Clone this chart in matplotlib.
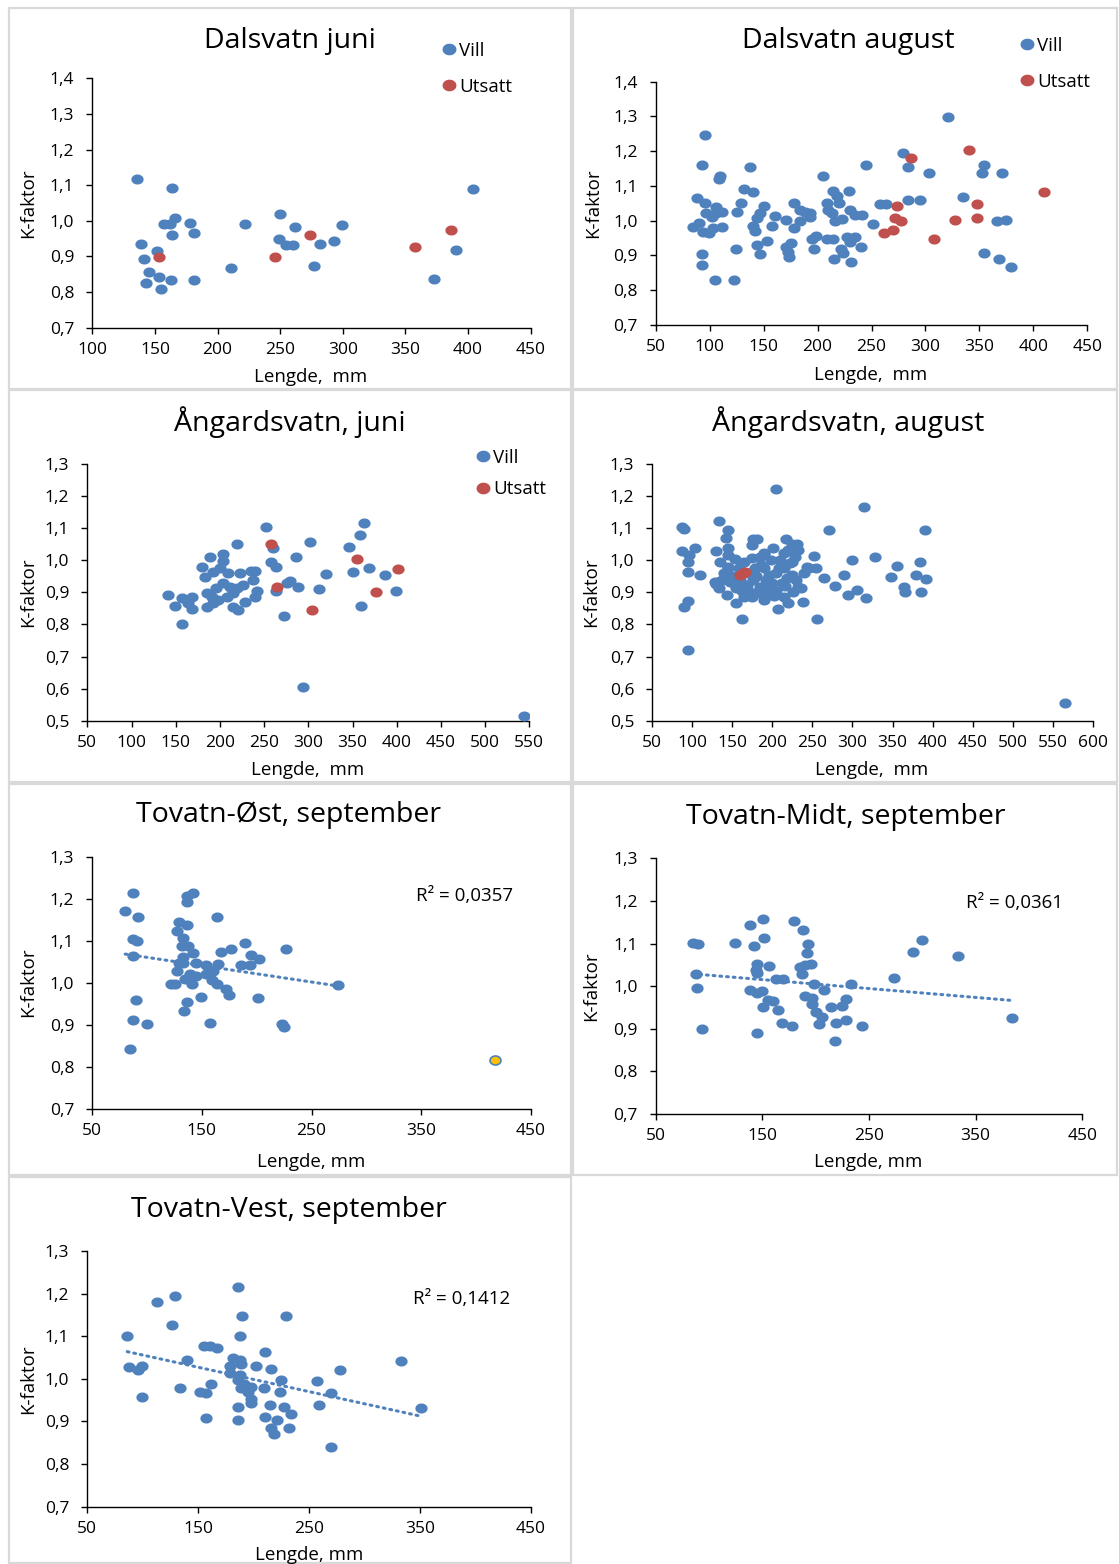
import numpy as np
import matplotlib
matplotlib.use("Agg")
import matplotlib.pyplot as plt
from matplotlib.path import Path
from matplotlib.patches import Rectangle
from matplotlib.lines import Line2D

plt.rcParams['font.family'] = ['Open Sans', 'DejaVu Sans']

W, H = 1119, 1564
BLUE = "#4F81BD"
RED = "#C0504D"
YELLOW = "#FFC000"

# --- Dalsvatn juni ---
dal_jun_vill_x = [136, 164, 250, 404, 166, 157, 162, 178, 164, 181, 222, 262, 299, 249, 255, 260,
                  282, 293, 139, 152, 141, 145, 153, 143, 163, 155, 181, 211, 277, 390, 373]
dal_jun_vill_y = [1.118, 1.093, 1.020, 1.088, 1.008, 0.991, 0.991, 0.995, 0.961, 0.966, 0.991, 0.983,
                  0.987, 0.949, 0.932, 0.932, 0.936, 0.944, 0.936, 0.915, 0.893, 0.855, 0.842, 0.826,
                  0.834, 0.809, 0.834, 0.868, 0.872, 0.919, 0.838]
dal_jun_uts_x = [153, 246, 274, 358, 386]
dal_jun_uts_y = [0.898, 0.898, 0.961, 0.927, 0.974]

# --- Dalsvatn august ---
dal_aug_vill_x = [96, 93, 137, 110, 109, 205, 132, 140, 88, 96, 106, 111, 97, 102, 106, 129, 125,
                  85, 90, 94, 99, 111, 103, 150, 147, 144, 140, 142, 161, 158, 171, 178, 178, 184,
                  188, 193, 193, 184, 124, 93, 93, 105, 123, 153, 144, 147, 171, 174, 173, 175,
                  195, 199, 197, 209, 214, 214, 218, 220, 209, 210, 213, 216, 223, 229, 230, 235,
                  241, 227, 235, 230, 222, 224, 215, 240, 231, 245, 251, 258, 263, 279, 284, 284,
                  295, 303, 321, 335, 354, 352, 371, 366, 375, 354, 368, 379]
dal_aug_vill_y = [1.247, 1.160, 1.156, 1.130, 1.119, 1.130, 1.090, 1.082, 1.065, 1.052, 1.040, 1.026,
                  1.021, 1.012, 1.021, 1.052, 1.026, 0.983, 0.994, 0.969, 0.964, 0.983, 0.978,
                  1.042, 1.021, 1.007, 0.986, 0.970, 1.014, 0.986, 1.003, 1.052, 0.978, 1.031,
                  1.026, 1.021, 1.010, 0.998, 0.918, 0.903, 0.874, 0.829, 0.829, 0.943, 0.930,
                  0.904, 0.925, 0.897, 0.911, 0.935, 0.946, 0.957, 0.920, 0.947, 0.947, 1.086,
                  1.071, 1.052, 1.052, 1.031, 1.021, 0.999, 1.005, 1.086, 1.031, 1.016, 1.016,
                  0.954, 0.954, 0.940, 0.920, 0.908, 0.890, 0.925, 0.882, 1.159, 0.990, 1.047,
                  1.047, 1.195, 1.156, 1.060, 1.060, 1.138, 1.299, 1.068, 1.159, 1.138, 1.138,
                  0.998, 1.003, 0.907, 0.890, 0.868]
dal_aug_uts_x = [287, 340, 274, 272, 277, 262, 270, 308, 327, 348, 348, 410]
dal_aug_uts_y = [1.181, 1.203, 1.042, 1.008, 0.998, 0.964, 0.973, 0.946, 1.003, 1.047, 1.008, 1.082]

# --- Ångardsvatn juni ---
ang_jun_vill_x = [141, 149, 157, 169, 164, 169, 157, 180, 189, 203, 204, 183, 192, 200, 209, 185,
                  191, 196, 204, 211, 185, 192, 198, 208, 215, 219, 226, 215, 221, 228, 223, 235,
                  240, 237, 242, 240, 219, 252, 260, 258, 264, 264, 272, 279, 288, 276, 286, 302,
                  312, 320, 294, 346, 358, 363, 351, 369, 360, 387, 399, 544]
ang_jun_vill_y = [0.892, 0.858, 0.881, 0.887, 0.866, 0.848, 0.802, 0.980, 1.009, 1.018, 0.999, 0.949,
                  0.964, 0.975, 0.959, 0.897, 0.887, 0.912, 0.928, 0.918, 0.855, 0.866, 0.876,
                  0.887, 0.897, 0.912, 0.923, 0.855, 0.845, 0.869, 0.959, 0.967, 0.968, 0.938,
                  0.905, 0.884, 1.051, 1.103, 1.037, 0.994, 0.980, 0.905, 0.826, 0.936, 0.916,
                  0.928, 1.009, 1.056, 0.910, 0.957, 0.604, 1.042, 1.080, 1.117, 0.962, 0.976,
                  0.858, 0.953, 0.905, 0.516]
ang_jun_uts_x = [258, 265, 304, 355, 377, 401]
ang_jun_uts_y = [1.051, 0.918, 0.844, 1.004, 0.900, 0.972]

# --- Ångardsvatn august ---
ang_aug_vill_x = [205, 315, 133, 87, 90, 144, 142, 271, 390, 176, 181, 175, 217, 224, 231, 232, 220,
                  87, 103, 96, 129, 144, 144, 94, 94, 110, 135, 153, 144, 128, 133, 140, 174, 189,
                  201, 214, 224, 252, 243, 254, 265, 289, 300, 328, 278, 295, 306, 317, 355, 348,
                  384, 379, 392, 364, 366, 386, 94, 90, 162, 256, 94, 565,
                  147, 155, 143, 155, 164, 160, 168, 176, 184, 180, 174, 190, 196, 190, 205, 207,
                  214, 220, 225, 232, 236, 238, 212, 200, 195, 205, 215, 222, 230, 186, 178, 170,
                  150, 145, 140, 210, 198, 185, 165, 158, 226, 218, 202, 192, 180, 172, 162, 152,
                  135, 130, 190, 228, 240, 246, 208, 188, 216]
ang_aug_vill_y = [1.221, 1.165, 1.122, 1.103, 1.097, 1.094, 1.070, 1.094, 1.094, 1.066, 1.066, 1.048,
                  1.066, 1.051, 1.051, 1.032, 1.032, 1.029, 1.037, 1.016, 1.029, 1.037, 1.016,
                  0.996, 0.962, 0.953, 0.996, 1.004, 0.980, 0.933, 0.915, 0.959, 1.006, 1.022,
                  1.037, 1.022, 0.996, 1.013, 0.980, 0.976, 0.944, 0.953, 1.000, 1.009, 0.920,
                  0.892, 0.908, 0.882, 0.981, 0.948, 0.995, 0.953, 0.943, 0.916, 0.900, 0.901,
                  0.873, 0.854, 0.816, 0.816, 0.721, 0.556,
                  0.933, 0.912, 0.892, 0.868, 0.885, 0.938, 0.922, 0.938, 0.917, 0.897, 0.887,
                  0.876, 0.955, 0.975, 0.903, 0.848, 0.887, 0.866, 0.954, 0.918, 0.913, 0.870,
                  0.930, 0.930, 0.910, 0.960, 0.975, 0.990, 0.940, 0.985, 0.975, 0.960, 0.950,
                  0.975, 0.945, 1.000, 1.000, 1.010, 0.995, 0.975, 0.900, 0.945, 0.890, 0.940,
                  0.950, 0.900, 0.905, 0.930, 0.935, 0.925, 1.020, 1.010, 0.960, 0.977, 0.975,
                  0.895, 0.920]
ang_aug_uts_x = [160, 163, 166]
ang_aug_uts_y = [0.954, 0.960, 0.963]

# --- Tovatn-Øst, september ---
ost_x = [87, 80, 92, 136, 142, 136, 164, 129, 136, 127, 87, 91, 87, 133, 132, 137, 142, 133, 129,
         133, 127, 145, 167, 177, 189, 195, 202, 186, 194, 227, 154, 165, 160, 154, 139, 145, 135,
         141, 125, 122, 159, 164, 172, 175, 274, 90, 149, 201, 136, 134, 87, 100, 157, 223, 225, 84]
ost_y = [1.214, 1.171, 1.156, 1.206, 1.214, 1.192, 1.156, 1.145, 1.138, 1.124, 1.103, 1.099, 1.063,
         1.107, 1.087, 1.087, 1.070, 1.062, 1.048, 1.046, 1.027, 1.048, 1.073, 1.081, 1.095, 1.067,
         1.056, 1.041, 1.041, 1.081, 1.041, 1.044, 1.029, 1.020, 1.020, 1.016, 1.010, 0.998, 0.998,
         0.998, 1.006, 0.998, 0.984, 0.970, 0.994, 0.959, 0.966, 0.963, 0.955, 0.933, 0.911, 0.902,
         0.905, 0.901, 0.894, 0.843]
ost_extra_x = [417]
ost_extra_y = [0.815]
ost_r2 = "0,0357"

# --- Tovatn-Midt, september ---
midt_x = [85, 90, 88, 89, 93, 124, 138, 151, 152, 142, 145, 156, 144, 145, 163, 169, 138, 145, 150,
          155, 160, 151, 165, 168, 178, 145, 180, 188, 193, 192, 185, 190, 196, 187, 198, 208, 233,
          190, 197, 197, 200, 206, 203, 214, 225, 228, 219, 228, 243, 218, 273, 291, 300, 333, 384]
midt_y = [1.102, 1.098, 1.028, 0.996, 0.899, 1.102, 1.144, 1.158, 1.112, 1.095, 1.052, 1.048,
          1.038, 1.031, 1.017, 1.017, 0.992, 0.985, 0.989, 0.968, 0.964, 0.950, 0.943, 0.914,
          0.907, 0.889, 1.152, 1.131, 1.098, 1.077, 1.046, 1.049, 1.052, 1.028, 1.006, 0.992,
          1.006, 0.978, 0.972, 0.957, 0.939, 0.928, 0.911, 0.950, 0.953, 0.971, 0.914, 0.921,
          0.907, 0.871, 1.018, 1.080, 1.109, 1.070, 0.925]
midt_r2 = "0,0361"

# --- Tovatn-Vest, september ---
vest_x = [86, 88, 96, 99, 99, 113, 129, 126, 140, 134, 155, 161, 167, 152, 157, 162, 157, 186, 190,
          188, 181, 188, 189, 179, 179, 188, 186, 191, 189, 198, 195, 198, 198, 186, 186, 210, 202,
          216, 225, 209, 224, 215, 227, 234, 210, 221, 216, 218, 232, 229, 257, 259, 270, 270, 278,
          333, 351]
vest_y = [1.101, 1.027, 1.021, 1.031, 0.957, 1.180, 1.194, 1.126, 1.045, 0.978, 1.077, 1.077, 1.073,
          0.970, 0.967, 0.988, 0.907, 1.215, 1.147, 1.101, 1.048, 1.044, 1.036, 1.030, 1.013, 1.009,
          0.997, 0.989, 0.978, 0.982, 0.970, 0.953, 0.943, 0.935, 0.903, 1.062, 1.030, 1.023, 0.998,
          0.978, 0.970, 0.939, 0.935, 0.917, 0.910, 0.903, 0.885, 0.871, 0.885, 1.147, 0.995,
          0.939, 0.966, 0.839, 1.021, 1.042, 0.931]
vest_r2 = "0,1412"

# slightly wide oval marker, like the spreadsheet dots
t = np.linspace(0, 2 * np.pi, 48)
OVAL = Path(np.c_[np.cos(t), 0.82 * np.sin(t)], closed=True)
MS = 78

TICK_FS = 12.5
LAB_FS = 13.5
TITLE_FS = 20.5

fig = plt.figure(figsize=(W / 100, H / 100), dpi=100)


def px_box(l, t_, r, b):
    return [l / W, 1 - b / H, (r - l) / W, (b - t_) / H]


def fx(x):
    return x / W


def fy(y):
    return 1 - y / H


def frame(l, t_, r, b):
    fig.add_artist(Rectangle((fx(l), fy(b)), (r - l) / W, (b - t_) / H,
                             transform=fig.transFigure, fill=False,
                             edgecolor="#d9d9d9", lw=1.6))


def make_axes(box, xlim, xticks, ylim, yticks):
    ax = fig.add_axes(px_box(*box))
    ax.set_xlim(*xlim)
    ax.set_ylim(*ylim)
    ax.set_xticks(xticks)
    ax.set_yticks(yticks)
    ax.set_xticklabels([str(v) for v in xticks])
    ax.set_yticklabels([f"{v:.1f}".replace(".", ",") for v in yticks])
    for s in ("top", "right"):
        ax.spines[s].set_visible(False)
    for s in ("left", "bottom"):
        ax.spines[s].set_linewidth(1.0)
        ax.spines[s].set_color("black")
    ax.tick_params(direction="out", length=4, width=1.0, labelsize=TICK_FS)
    ax.tick_params(axis="y", pad=9)
    ax.tick_params(axis="x", pad=6)
    ax.patch.set_alpha(0)
    return ax


def labels(ax, title, title_xy, ylab_xy, xlab_xy, xlab="Lengde,  mm"):
    fig.text(fx(title_xy[0]), fy(title_xy[1]), title, ha="center", va="center", fontsize=TITLE_FS)
    fig.text(fx(ylab_xy[0]), fy(ylab_xy[1]), "K-faktor", rotation=90, ha="center", va="center",
             fontsize=LAB_FS)
    fig.text(fx(xlab_xy[0]), fy(xlab_xy[1]), xlab, ha="center", va="center", fontsize=LAB_FS)


def legend(ax, x, y, spacing):
    handles = [Line2D([], [], ls="none", marker=OVAL, ms=9, color=BLUE),
               Line2D([], [], ls="none", marker=OVAL, ms=9, color=RED)]
    ax.legend(handles, ["Vill", "Utsatt"], loc="upper left", bbox_to_anchor=(fx(x), fy(y)),
              bbox_transform=fig.transFigure, frameon=False, fontsize=LAB_FS,
              handlelength=0.6, handletextpad=0.25, labelspacing=spacing, borderpad=0, borderaxespad=0)


def trend(ax, x, y, r2, xy):
    x = np.asarray(x, float)
    y = np.asarray(y, float)
    k, m = np.polyfit(x, y, 1)
    xs = np.array([x.min(), x.max()])
    ax.plot(xs, k * xs + m, color=BLUE, lw=2.2, ls=(0, (0.6, 1.6)), dash_capstyle="round", zorder=1)
    fig.text(fx(xy[0]), fy(xy[1]), f"R² = {r2}", ha="center", va="center", fontsize=LAB_FS)


# panel frames
frame(9, 8, 571, 389)
frame(573, 8, 1117, 389)
frame(9, 390, 571, 782)
frame(573, 390, 1117, 782)
frame(9, 784, 571, 1175)
frame(573, 784, 1117, 1175)
frame(9, 1177, 571, 1563)

y07_14 = [0.7, 0.8, 0.9, 1.0, 1.1, 1.2, 1.3, 1.4]
y05_13 = [0.5, 0.6, 0.7, 0.8, 0.9, 1.0, 1.1, 1.2, 1.3]
y07_13 = [0.7, 0.8, 0.9, 1.0, 1.1, 1.2, 1.3]

# Dalsvatn juni
ax = make_axes((92.3, 78.3, 530.7, 327.7), (100, 450), list(range(100, 451, 50)), (0.7, 1.4), y07_14)
ax.scatter(dal_jun_vill_x, dal_jun_vill_y, marker=OVAL, s=MS, color=BLUE, lw=0, zorder=3)
ax.scatter(dal_jun_uts_x, dal_jun_uts_y, marker=OVAL, s=MS, color=RED, lw=0, zorder=3)
labels(ax, "Dalsvatn juni", (290, 41), (28, 203), (311, 377))
legend(ax, 443.5, 42, 0.95)

# Dalsvatn august
ax = make_axes((655.7, 81.7, 1087.3, 325), (50, 450), list(range(50, 451, 50)), (0.7, 1.4), y07_14)
ax.scatter(dal_aug_vill_x, dal_aug_vill_y, marker=OVAL, s=MS, color=BLUE, lw=0, zorder=3)
ax.scatter(dal_aug_uts_x, dal_aug_uts_y, marker=OVAL, s=MS, color=RED, lw=0, zorder=3)
labels(ax, "Dalsvatn august", (848, 41), (593, 203), (871, 375))
legend(ax, 1021.5, 37, 0.95)

# Ångardsvatn juni
ax = make_axes((87.3, 464, 529.3, 720.7), (50, 550), list(range(50, 551, 50)), (0.5, 1.3), y05_13)
ax.scatter(ang_jun_vill_x, ang_jun_vill_y, marker=OVAL, s=MS, color=BLUE, lw=0, zorder=3)
ax.scatter(ang_jun_uts_x, ang_jun_uts_y, marker=OVAL, s=MS, color=RED, lw=0, zorder=3)
labels(ax, "Ångardsvatn, juni", (290, 422), (28, 592), (308, 770))
legend(ax, 477.5, 449, 0.72)

# Ångardsvatn august
ax = make_axes((652.3, 464, 1092.7, 720.7), (50, 600), list(range(50, 601, 50)), (0.5, 1.3), y05_13)
ax.scatter(ang_aug_vill_x, ang_aug_vill_y, marker=OVAL, s=MS, color=BLUE, lw=0, zorder=3)
ax.scatter(ang_aug_uts_x, ang_aug_uts_y, marker=OVAL, s=MS, color=RED, lw=0, zorder=3)
labels(ax, "Ångardsvatn, august", (848, 422), (591, 592), (872, 770))

# Tovatn-Øst
ax = make_axes((92.3, 856.7, 530.7, 1108.7), (50, 450), [50, 150, 250, 350, 450], (0.7, 1.3), y07_13)
ax.scatter(ost_x, ost_y, marker=OVAL, s=MS, color=BLUE, lw=0, zorder=3)
ax.scatter(ost_extra_x, ost_extra_y, marker=OVAL, s=MS * 0.8, color=YELLOW, edgecolor=BLUE, lw=1.2, zorder=3)
trend(ax, ost_x, ost_y, ost_r2, (465, 896))
labels(ax, "Tovatn-Øst, september", (289, 815), (28, 982), (311, 1162), "Lengde, mm")

# Tovatn-Midt
ax = make_axes((655.7, 858.3, 1082.3, 1114), (50, 450), [50, 150, 250, 350, 450], (0.7, 1.3), y07_13)
ax.scatter(midt_x, midt_y, marker=OVAL, s=MS, color=BLUE, lw=0, zorder=3)
trend(ax, midt_x, midt_y, midt_r2, (1015, 903))
labels(ax, "Tovatn-Midt, september", (846, 817), (591, 986), (868, 1162), "Lengde, mm")

# Tovatn-Vest
ax = make_axes((87.3, 1251, 530.7, 1506.7), (50, 450), [50, 150, 250, 350, 450], (0.7, 1.3), y07_13)
ax.scatter(vest_x, vest_y, marker=OVAL, s=MS, color=BLUE, lw=0, zorder=3)
trend(ax, vest_x, vest_y, vest_r2, (462, 1299))
labels(ax, "Tovatn-Vest, september", (289, 1210), (28, 1379), (309, 1555), "Lengde, mm")

fig.savefig("out.png", dpi=100)
